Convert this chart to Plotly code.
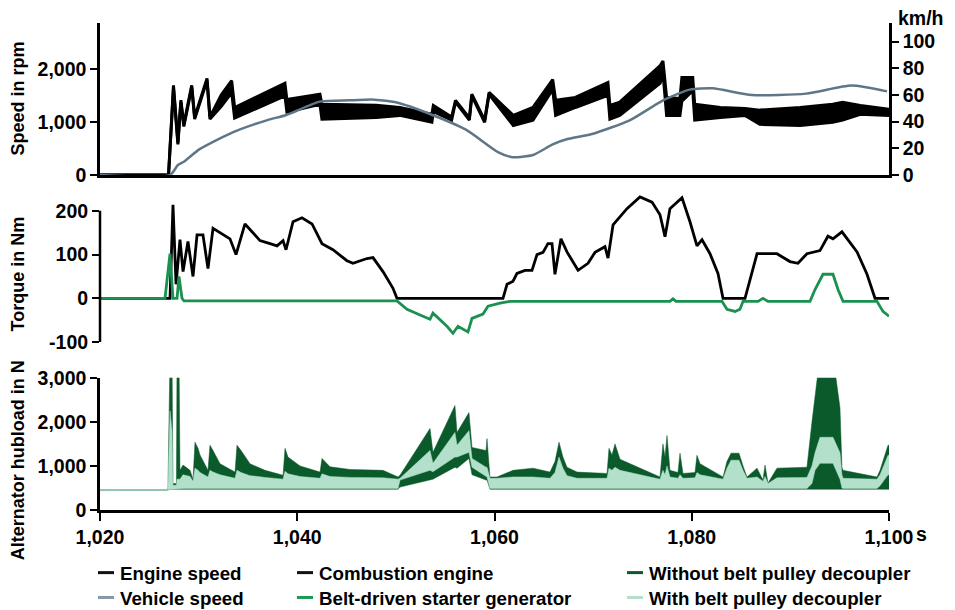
import plotly.graph_objects as go

# ---------------- data ----------------
# Engine speed (rpm) band: time, lower envelope, upper envelope
es_t = [1020, 1026.95, 1027.45, 1027.9, 1028.2, 1028.5, 1029.3, 1029.6, 1030.85, 1031.15,
        1032.3, 1033.35, 1033.65, 1038.75, 1038.95, 1042.3, 1042.5, 1046.4, 1048.0, 1050.4,
        1053.65, 1053.8, 1055.65, 1056.05, 1057.45, 1057.7, 1059.0, 1059.45, 1061.9, 1063.9,
        1065.9, 1066.2, 1068.2, 1071.5, 1071.7, 1072.7, 1076.8, 1077.08, 1077.45, 1078.8,
        1079.0, 1080.1, 1080.3, 1082.9, 1085.4, 1086.9, 1091.0, 1094.3, 1095.3, 1097.1, 1100]
es_lo = [0, 0, 1650, 580, 1380, 920, 1660, 1060, 1790, 1060,
         1300, 1560, 1080, 1500, 1190, 1340, 1060, 1080, 1090, 1130,
         1000, 1200, 1040, 1380, 1040, 1500, 1000, 1530, 940, 1040,
         1620, 1130, 1280, 1510, 1060, 1130, 1740, 1950, 1130, 1130,
         1400, 1600, 1040, 1090, 1130, 960, 940, 1000, 1040, 1150, 1130]
es_hi = [0, 0, 1700, 620, 1420, 960, 1700, 1100, 1830, 1100,
         1520, 1790, 1280, 1740, 1430, 1530, 1340, 1330, 1320, 1280,
         1150, 1320, 1100, 1415, 1080, 1530, 1040, 1565, 1130, 1280,
         1810, 1415, 1470, 1755, 1320, 1380, 2075, 2160, 1470, 1450,
         1850, 1850, 1340, 1280, 1260, 1230, 1280, 1340, 1380, 1320, 1245]

# Vehicle speed (km/h)
vs_t = [1020, 1027.1, 1027.9, 1028.5, 1030.1, 1033.45, 1036.9, 1038.9, 1042.3, 1045.3,
        1047.8, 1050.0, 1053.7, 1057.1, 1060.4, 1061.8, 1063.9, 1065.9, 1067.4, 1070.0,
        1073.7, 1077.1, 1079.8, 1082.1, 1086.1, 1091.6, 1096.2, 1099.8]
vs_v = [0, 0, 7.5, 10, 19.4, 32, 41, 45, 55, 56,
        56.5, 54.5, 45, 34, 17, 13.4, 15, 23, 27, 31,
        41, 56, 64, 65, 60, 61, 67, 62.7]

# Combustion engine torque (Nm)
ce_t = [1020, 1027.10, 1027.40, 1027.71, 1028.11, 1028.42, 1028.92, 1029.43, 1029.84, 1030.44,
        1030.95, 1031.46, 1033.18, 1033.79, 1034.70, 1036.22, 1037.24, 1037.95, 1038.56, 1038.86,
        1039.57, 1040.48, 1041.50, 1042.51, 1043.62, 1045.04, 1045.65, 1047.07, 1047.68, 1048.69,
        1049.71, 1050.11, 1060.86, 1061.27, 1061.88, 1062.28, 1063.09, 1063.80, 1064.31, 1064.92,
        1065.42, 1065.83, 1066.13, 1066.74, 1067.35, 1068.47, 1069.48, 1070.19, 1071.20, 1071.51,
        1072.02, 1073.43, 1074.75, 1075.97, 1076.78, 1077.29, 1077.79, 1079.01, 1079.82, 1080.53,
        1081.04, 1081.85, 1082.66, 1083.17, 1085.40, 1086.62, 1088.64, 1089.96, 1090.77, 1091.68,
        1093.00, 1093.81, 1094.32, 1095.23, 1096.76, 1097.77, 1098.58, 1100]
ce_v = [0, 0, 214, 32, 134, 61, 130, 50, 145, 145,
        68, 160, 136, 100, 170, 132, 125, 120, 132, 111,
        175, 184, 170, 125, 111, 86, 80, 91, 93, 61,
        23, 0, 0, 32, 39, 57, 64, 64, 100, 105,
        125, 125, 55, 136, 106, 64, 80, 105, 118, 92,
        168, 205, 232, 220, 191, 141, 205, 230, 175, 120,
        134, 102, 57, 0, 0, 102, 102, 84, 80, 102,
        109, 142, 136, 152, 106, 55, 0, 0]

# Belt-driven starter generator torque (Nm)
bsg_t = [1020, 1026.59, 1027.10, 1027.40, 1027.81, 1028.01, 1028.31, 1028.52, 1050.11, 1051.13,
         1052.75, 1053.46, 1053.76, 1055.18, 1055.79, 1056.30, 1057.31, 1057.72, 1058.83, 1059.34,
         1060.56, 1061.57, 1077.79, 1078.10, 1078.40, 1083.07, 1083.57, 1084.39, 1084.89, 1085.20,
         1086.72, 1087.22, 1087.73, 1091.99, 1092.50, 1093.31, 1094.32, 1094.83, 1095.34, 1098.78,
         1099.39, 1100]
bsg_v = [0, 0, 102, 0, 0, 50, 0, -6, -6, -25,
         -41, -48, -34, -64, -80, -64, -77, -46, -36, -18,
         -11, -7, -7, -1, -7, -7, -25, -30, -25, -7,
         -7, 0, -7, -7, 20, 55, 55, 20, -7, -7,
         -30, -41]

# Alternator hubload (N): bands without / with belt pulley decoupler
hl_t = [1020, 1026.8, 1026.89, 1027.05, 1027.10, 1027.30, 1027.40, 1027.75, 1027.81, 1028.01,
        1028.11, 1028.42, 1029.13, 1029.43, 1029.63, 1029.94, 1030.14, 1030.95, 1031.15, 1031.46,
        1032.17, 1033.69, 1033.89, 1034.30, 1035.21, 1036.73, 1038.56, 1038.76, 1039.06, 1040.28,
        1042.31, 1042.51, 1043.32, 1045.35, 1048.69, 1050.22, 1050.42, 1053.46, 1053.76, 1055.99,
        1056.20, 1057.41, 1057.72, 1059.14, 1059.24, 1059.54, 1060.25, 1061.88, 1063.90, 1065.63,
        1066.13, 1066.54, 1066.94, 1067.35, 1068.37, 1071.41, 1071.61, 1071.91, 1072.22, 1072.73,
        1074.75, 1076.78, 1077.08, 1077.29, 1077.49, 1077.79, 1078.60, 1078.81, 1079.11, 1080.33,
        1080.53, 1080.84, 1083.17, 1083.57, 1083.98, 1084.79, 1085.20, 1085.60, 1086.62, 1087.22,
        1087.43, 1087.73, 1088.64, 1091.68, 1092.19, 1092.50, 1093.00, 1094.32, 1095.03, 1095.23,
        1095.34, 1098.78, 1099.09, 1099.90, 1100]
wo_lo = [440, 440, 450, 470, 470, 470, 470, 470, 470, 470,
         470, 470, 470, 470, 470, 470, 470, 470, 470, 470,
         470, 470, 470, 470, 470, 470, 470, 470, 470, 470,
         470, 470, 470, 470, 470, 470, 520, 680, 700, 970,
         950, 1170, 800, 680, 680, 470, 470, 470, 470, 470,
         470, 470, 470, 470, 470, 470, 470, 470, 470, 470,
         470, 470, 470, 470, 470, 470, 470, 470, 470, 470,
         470, 470, 470, 470, 470, 470, 470, 470, 470, 470,
         470, 470, 470, 470, 470, 470, 470, 470, 470, 470,
         470, 470, 470, 470, 470]
wo_hi = [460, 460, 500, 2200, 3500, 3500, 600, 600, 3500, 3500,
         900, 1020, 900, 700, 1540, 1400, 1250, 900, 1470, 1350,
         1050, 860, 1470, 1350, 1050, 900, 790, 1400, 1200, 1000,
         860, 1170, 980, 920, 900, 750, 790, 1850, 1310, 2370,
         1760, 2210, 1420, 1350, 1620, 750, 750, 900, 950, 860,
         1100, 1540, 1200, 970, 860, 830, 1400, 1250, 1500, 1150,
         950, 750, 1500, 1200, 1690, 900, 850, 1290, 830, 850,
         1240, 1050, 750, 1100, 1290, 1290, 1000, 750, 950, 680,
         1020, 610, 950, 970, 2000, 2600, 3500, 3500, 2320, 970,
         900, 750, 900, 1470, 1470]
w_lo = [440, 440, 450, 470, 470, 470, 480, 480, 480, 480,
        480, 490, 490, 490, 490, 490, 490, 490, 490, 490,
        490, 490, 490, 490, 490, 490, 490, 490, 490, 490,
        490, 490, 490, 490, 490, 490, 680, 900, 870, 1200,
        1200, 1310, 970, 750, 750, 490, 490, 490, 490, 490,
        490, 490, 490, 490, 490, 490, 490, 490, 490, 490,
        490, 490, 490, 490, 490, 490, 490, 490, 490, 490,
        490, 490, 490, 490, 490, 490, 490, 490, 490, 490,
        490, 490, 490, 490, 600, 900, 1060, 1060, 700, 500,
        490, 490, 550, 800, 800]
w_hi = [460, 460, 500, 2150, 2250, 1800, 560, 560, 700, 700,
        700, 800, 760, 650, 950, 900, 850, 750, 900, 860,
        800, 720, 900, 850, 780, 740, 700, 880, 820, 760,
        720, 820, 760, 740, 730, 700, 720, 1350, 1060, 1760,
        1470, 1800, 1170, 970, 970, 720, 720, 750, 750, 720,
        850, 1200, 950, 780, 720, 720, 950, 900, 970, 900,
        800, 700, 900, 800, 1000, 750, 720, 800, 720, 730,
        850, 800, 700, 950, 1130, 1130, 900, 720, 750, 650,
        760, 600, 730, 740, 1000, 1300, 1650, 1650, 1300, 800,
        720, 700, 800, 1240, 1240]

rpm_ticks = [0, 1000, 2000]
rpm_labels = ["0", "1,000", "2,000"]
kmh_ticks = [0, 20, 40, 60, 80, 100]
nm_ticks = [-100, 0, 100, 200]
nm_labels = ["-100", "0", "100", "200"]
hub_ticks = [0, 1000, 2000, 3000]
hub_labels = ["0", "1,000", "2,000", "3,000"]
time_ticks = [1020, 1040, 1060, 1080, 1100]
time_labels = ["1,020", "1,040", "1,060", "1,080", "1,100"]

legend_items = [
    ("Engine speed", "#111111", 0, 0),
    ("Vehicle speed", "#8797ab", 0, 1),
    ("Combustion engine", "#111111", 1, 0),
    ("Belt-driven starter generator", "#1c9a55", 1, 1),
    ("Without belt pulley decoupler", "#0b5a2c", 2, 0),
    ("With belt pulley decoupler", "#b3e0cb", 2, 1),
]

# ---------------- colours / geometry ----------------
BLACK = "#000000"
VEH = "#5f7687"
BSG = "#1b9150"
DARK = "#0b5a2c"
LIGHT = "#b3e0cb"
FAM = "Liberation Sans, Arial, sans-serif"
FONT = dict(family=FAM, size=18, color="black", weight="bold")
TICKFONT = dict(family=FAM, size=19.5, color="black", weight="bold")
LEGFONT = dict(family=FAM, size=18.7, color="black", weight="bold")

W, H = 955, 610
ML, MR, MT, MB = 100, 66, 20, 100
PW, PH = W - ML - MR, H - MT - MB


def xp(px):
    return (px - ML) / PW


def yp(py):
    return (H - MB - py) / PH


fig = go.Figure()

# top panel
fig.add_trace(go.Scatter(x=vs_t, y=vs_v, mode="lines", line=dict(color=VEH, width=2.5, shape="spline", smoothing=0.6),
                         xaxis="x", yaxis="y2", showlegend=False))
fig.add_trace(go.Scatter(x=es_t, y=es_hi, mode="lines", line=dict(color=BLACK, width=3),
                         xaxis="x", yaxis="y", showlegend=False))
fig.add_trace(go.Scatter(x=es_t, y=es_lo, mode="lines", line=dict(color=BLACK, width=3),
                         fill="tonexty", fillcolor=BLACK, xaxis="x", yaxis="y", showlegend=False))

# torque panel
fig.add_trace(go.Scatter(x=ce_t, y=ce_v, mode="lines", line=dict(color=BLACK, width=2.8),
                         xaxis="x2", yaxis="y3", showlegend=False))
fig.add_trace(go.Scatter(x=bsg_t, y=bsg_v, mode="lines", line=dict(color=BSG, width=2.8),
                         xaxis="x2", yaxis="y3", showlegend=False))

# hubload panel
fig.add_trace(go.Scatter(x=hl_t, y=wo_hi, mode="lines", line=dict(color=DARK, width=0.5),
                         xaxis="x3", yaxis="y4", showlegend=False))
fig.add_trace(go.Scatter(x=hl_t, y=wo_lo, mode="lines", line=dict(color=DARK, width=0.5),
                         fill="tonexty", fillcolor=DARK, xaxis="x3", yaxis="y4", showlegend=False))
fig.add_trace(go.Scatter(x=hl_t, y=w_hi, mode="lines", line=dict(color=LIGHT, width=0.5),
                         xaxis="x3", yaxis="y4", showlegend=False))
fig.add_trace(go.Scatter(x=hl_t, y=w_lo, mode="lines", line=dict(color=LIGHT, width=0.5),
                         fill="tonexty", fillcolor=LIGHT, xaxis="x3", yaxis="y4", showlegend=False))

top_dom = [yp(173), 1.0]
tq_rng = [-100, 240]
tq_dom = [yp(341), yp(341 - 340 * 0.44)]
hub_dom = [0.0, yp(377)]

common_y = dict(showgrid=False, zeroline=False, ticks="outside", ticklen=7, tickwidth=2,
                tickcolor="black", tickfont=TICKFONT, linecolor="black", linewidth=2.5)

fig.update_layout(
    width=W, height=H,
    margin=dict(l=ML, r=MR, t=MT, b=MB),
    paper_bgcolor="white", plot_bgcolor="white",
    font=FONT,
    xaxis=dict(domain=[0, 1], range=[1020, 1100], anchor="y", showline=True, linecolor="black",
               linewidth=2.5, showticklabels=False, ticks="", showgrid=False, zeroline=False),
    xaxis2=dict(domain=[0, 1], range=[1020, 1100], anchor="y3", matches="x", showline=False,
                showticklabels=False, ticks="", showgrid=False, zeroline=False),
    xaxis3=dict(domain=[0, 1], range=[1020, 1100], anchor="y4", matches="x", showline=True,
                linecolor="black", linewidth=2.5, ticks="outside", ticklen=8, tickwidth=2,
                tickcolor="black", tickvals=time_ticks, ticktext=time_labels, tickfont=TICKFONT,
                showgrid=False, zeroline=False),
    yaxis=dict(domain=top_dom, range=[0, 2880], anchor="x", showline=True,
               tickvals=rpm_ticks, ticktext=rpm_labels, **common_y),
    yaxis2=dict(range=[0, 2880 * 0.053 / 1.34], overlaying="y", side="right", anchor="x",
                showline=True, tickvals=kmh_ticks, **common_y),
    yaxis3=dict(domain=tq_dom, range=tq_rng, anchor="x2", showline=False,
                tickvals=nm_ticks, ticktext=nm_labels, **common_y),
    yaxis4=dict(domain=hub_dom, range=[0, 3000], anchor="x3", showline=True,
                tickvals=hub_ticks, ticktext=hub_labels, **common_y),
)

shapes = [
    # torque axis line from -100 to 200
    dict(type="line", xref="paper", yref="y3", x0=0, x1=0, y0=-100, y1=200,
         line=dict(color="black", width=2.5)),
]
annotations = [
    dict(text="Speed in rpm", x=xp(18), y=yp(96), textangle=-90, font=FONT),
    dict(text="Torque in Nm", x=xp(18), y=yp(273), textangle=-90, font=FONT),
    dict(text="Alternator hubload in N", x=xp(18), y=yp(460), textangle=-90, font=FONT),
    dict(text="km/h", x=xp(921), y=yp(15), font=TICKFONT),
    dict(text="s", x=xp(921), y=yp(534), font=TICKFONT),
]
for a in annotations:
    a.update(xref="paper", yref="paper", showarrow=False, xanchor="center", yanchor="middle")

col_x = [98, 297, 627]
row_y = [573, 598]
for label, color, col, row in legend_items:
    shapes.append(dict(type="line", xref="paper", yref="paper",
                       x0=xp(col_x[col]), x1=xp(col_x[col] + 16), y0=yp(row_y[row]), y1=yp(row_y[row]),
                       line=dict(color=color, width=3)))
    annotations.append(dict(text=label, xref="paper", yref="paper", x=xp(col_x[col] + 20),
                            y=yp(row_y[row] + 1), xanchor="left", yanchor="middle",
                            showarrow=False, font=LEGFONT))

fig.update_layout(shapes=shapes, annotations=annotations)
fig.write_html("out.html", config={"displayModeBar": False},
               post_script="document.body.style.margin='0px';document.body.style.padding='0px';")
